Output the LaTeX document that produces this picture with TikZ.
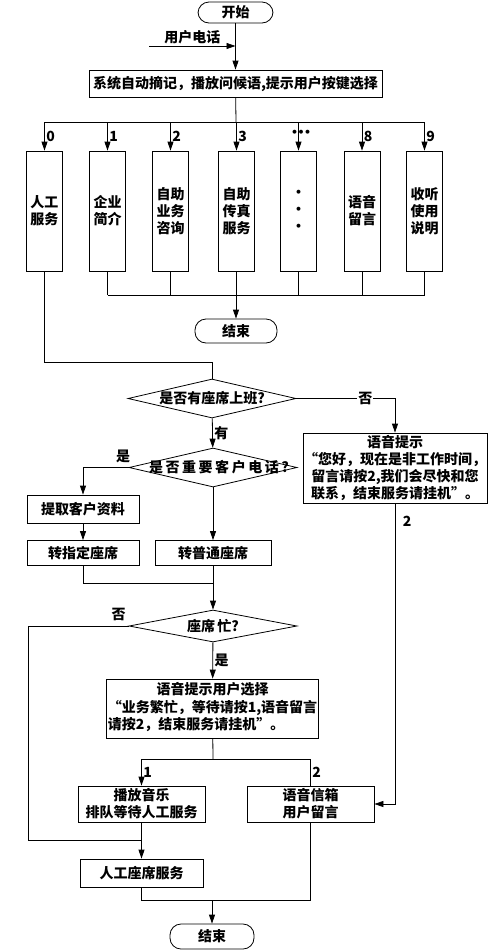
\documentclass[tikz,border=0pt]{standalone}
\usepackage{fontspec}
\setmainfont{Noto Sans CJK SC}
\usepackage{tikz}
\usetikzlibrary{arrows.meta, positioning, shapes.geometric}

\begin{document}
\begin{tikzpicture}[
    x=1pt, y=-1pt, line width=0.8pt,
    every node/.style={font=\fontsize{14}{17}\selectfont\bfseries},
    block/.style={rectangle, draw, align=center, inner sep=1pt},
    keybox/.style={rectangle, draw, align=center, minimum width=36pt, minimum height=120pt, inner sep=0pt},
    term/.style={rectangle, rounded corners=11pt, draw, minimum height=23pt, inner sep=0pt},
    decision/.style={diamond, draw, aspect=4.3, inner sep=0pt, minimum width=168pt, minimum height=39pt},
    arrow/.style={-{Triangle[length=9pt, width=6pt]}},
    lbl/.style={inner sep=1.5pt}
]
    \useasboundingbox (0,0) rectangle (489,951);

    % top: start and key menu
    \node[term, minimum width=75pt, minimum height=21pt] (start) at (235.5,12.5) {开始};
    \node[block, minimum width=293pt, minimum height=27pt] (sys) at (235.5,83.5) {系统自动摘记，播放问候语,提示用户按键选择};
    \coordinate (call) at (149,46);
    \draw[arrow] (call) -- node[above, lbl] {用户电话} (call -| start.south);
    \draw[arrow] (start) -- (sys);

    \node[keybox] (k0) at (44.5,211) {人工\\服务};
    \node[keybox] (k1) at (107.5,211) {企业\\简介};
    \node[keybox] (k2) at (170.5,211) {自助\\业务\\咨询};
    \node[keybox] (k3) at (236.5,211) {自助\\传真\\服务};
    \node[keybox] (kd) at (298.5,211) {·\\·\\·};
    \node[keybox] (k8) at (362,211) {语音\\留言};
    \node[keybox] (k9) at (424.5,211) {收听\\使用\\说明};

    \coordinate (bus) at (236,122);
    \draw (sys) -- (bus);
    \draw (k0.north |- bus) -- (k9.north |- bus);
    \foreach \k/\t in {k0/0, k1/1, k2/2, k3/3, k8/8, k9/9}
        \draw[arrow] (\k.north |- bus) -- node[right, lbl] {\t} (\k.north);
    \draw[arrow] (kd.north |- bus) -- (kd.north);
    \node[inner sep=0pt] (dots) at (301,134) {\makebox[6.5pt]{·}\makebox[6.5pt]{·}\makebox[6.5pt]{·}};

    \node[term, minimum width=82pt, minimum height=24pt] (end1) at (236,331) {结束};
    \coordinate (join) at (236,295);
    \foreach \k in {k1, k2, k3, kd, k8, k9}
        \draw (\k.south) -- (\k.south |- join);
    \draw (k1.south |- join) -- (k9.south |- join);
    \draw[arrow] (join) -- (end1);

    % manual service
    \node[decision] (d1) at (212,398.5) {\makebox[0pt]{是否有座席上班?}};
    \coordinate (turn0) at (212,362);
    \draw (k0.south) |- (turn0) -- (d1.north);

    \node[block, minimum width=174pt, minimum height=70pt] (tip) at (395,468) {语音提示\\“您好，现在是非工作时间，\\留言请按2,我们会尽快和您\\联系，结束服务请挂机”。};
    \draw[arrow] (d1.east) -| node[pos=0.35, fill=white, inner sep=1pt] {否} (tip.north);

    \node[decision] (d2) at (213,467.5) {\makebox[0pt]{\hspace{12pt}\addfontfeature{LetterSpace=18}是否重要客户电话?}};
    \draw[arrow] (d1) -- node[right, lbl] {有} (d2);

    \node[block, minimum width=112pt, minimum height=28pt] (fetch) at (83,509) {提取客户资料};
    \node[block, minimum width=112pt, minimum height=25pt] (assign) at (83,553) {转指定座席};
    \node[block, minimum width=116pt, minimum height=25pt] (normal) at (213,553) {转普通座席};
    \draw[arrow] (d2.west) -| node[pos=0.06, above=3pt, lbl] {是} (fetch.north);
    \draw[arrow] (fetch) -- (assign);
    \draw[arrow] (d2) -- (normal);

    \node[decision, minimum height=32pt] (d3) at (213,626) {\makebox[0pt]{座席\,忙?}};
    \coordinate (j2) at (213,583);
    \draw (assign.south) |- (j2);
    \draw[arrow] (normal) -- (d3);

    \node[block, minimum width=207pt, minimum height=59pt] (prompt) at (212.5,708.5) {\begin{tabular}{@{}l@{}}\multicolumn{1}{@{}c@{}}{语音提示用户选择}\\“业务繁忙，等待请按1,语音留言\\请按2，结束服务请挂机”。\end{tabular}};
    \draw[arrow] (d3) -- node[right, lbl] {是} (prompt);

    % queue or voice mail
    \node[block, minimum width=127pt, minimum height=36pt] (play) at (141.5,804) {播放音乐\\排队等待人工服务};
    \node[block, minimum width=127pt, minimum height=36pt] (mbox) at (310.5,804) {语音信箱\\用户留言};
    \node[block, minimum width=123pt, minimum height=28pt] (human) at (141.5,873) {人工座席服务};
    \coordinate (j5) at (213,759);
    \draw (prompt) -- (j5);
    \draw (play.north |- j5) -- (mbox.north |- j5);
    \draw[arrow] (play.north |- j5) -- node[right, lbl] {1} (play.north);
    \draw (mbox.north |- j5) -- node[right, lbl] {2} (mbox.north);
    \draw[arrow] (tip.south) |- node[pos=0.03, right=6pt, lbl] {2} (mbox.east);

    \coordinate (left3) at (28,626);
    \coordinate (j4) at (141.5,840);
    \draw (d3.west) -- node[pos=0.1, above=3pt, lbl] {否} (left3) |- (j4);
    \draw[arrow] (play) -- (human);

    \node[term, minimum width=84pt, minimum height=25pt] (end2) at (212,936.5) {结束};
    \coordinate (j6) at (212,900);
    \draw (human.south) |- (j6);
    \draw (mbox.south) |- (j6);
    \draw[arrow] (j6) -- (end2);
\end{tikzpicture}
\end{document}
